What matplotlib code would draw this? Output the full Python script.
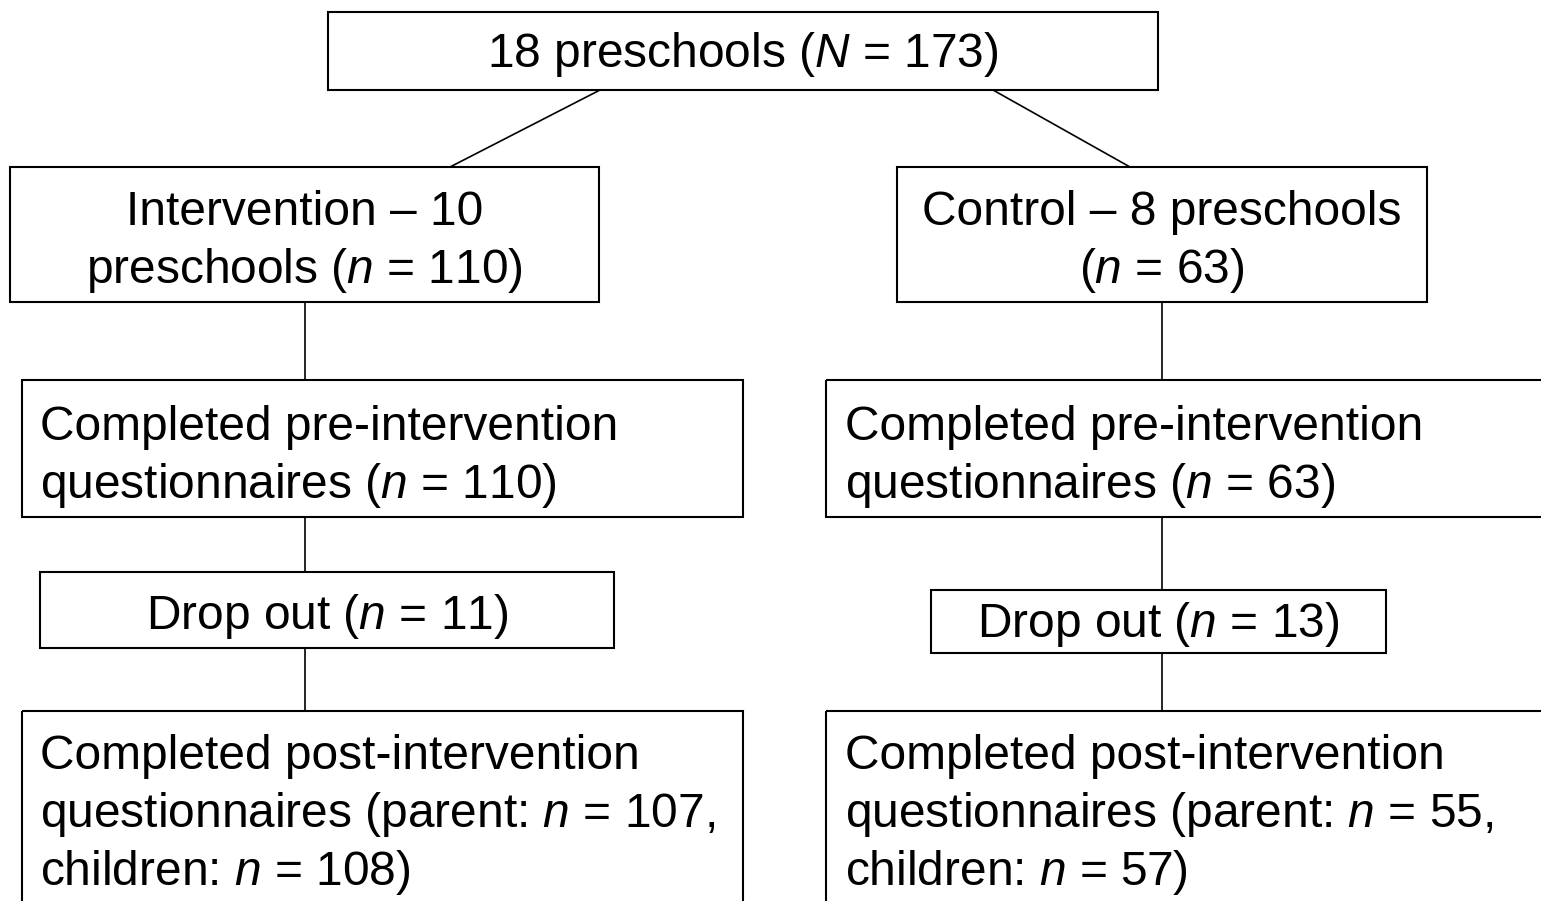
import matplotlib
matplotlib.use("Agg")
import matplotlib.pyplot as plt
from matplotlib.patches import Rectangle

plt.rcParams['font.family'] = ['Liberation Sans', 'DejaVu Sans']
plt.rcParams['mathtext.fontset'] = 'custom'
plt.rcParams['mathtext.rm'] = 'Liberation Sans'
plt.rcParams['mathtext.it'] = 'Liberation Sans:italic'

# ---- content ----
top_lines = ["18 preschools ($N$ = 173)"]
int_lines = ["Intervention – 10", "preschools ($n$ = 110)"]
ctl_lines = ["Control – 8 preschools", "($n$ = 63)"]
pre_int_lines = ["Completed pre-intervention", "questionnaires ($n$ = 110)"]
pre_ctl_lines = ["Completed pre-intervention", "questionnaires ($n$ = 63)"]
drop_int_lines = ["Drop out ($n$ = 11)"]
drop_ctl_lines = ["Drop out ($n$ = 13)"]
post_int_lines = ["Completed post-intervention",
                  "questionnaires (parent: $n$ = 107,",
                  "children: $n$ = 108)"]
post_ctl_lines = ["Completed post-intervention",
                  "questionnaires (parent: $n$ = 55,",
                  "children: $n$ = 57)"]

# ---- layout (pixel coordinates) ----
W, H = 1541, 901
FS = 34.5
LS = 58

fig = plt.figure(figsize=(W / 100, H / 100), dpi=100)
ax = fig.add_axes([0, 0, 1, 1])
ax.set_xlim(0, W)
ax.set_ylim(H, 0)
ax.axis('off')

def box(x0, y0, x1, y1, lines, first_base, align='center', tx=None):
    ax.add_patch(Rectangle((x0, y0), x1 - x0, y1 - y0, fill=False,
                           edgecolor='black', linewidth=1.5, clip_on=True))
    if tx is None:
        tx = (x0 + x1) / 2
    for i, s in enumerate(lines):
        ax.text(tx, first_base + i * LS, s, fontsize=FS, ha=align,
                va='baseline', color='black')

def line(x0, y0, x1, y1):
    ax.plot([x0, x1], [y0, y1], color='black', linewidth=1.2,
            solid_capstyle='butt')

box(328, 12, 1158, 90, top_lines, 67)
box(10, 167, 599, 302, int_lines, 225)
box(897, 167, 1427, 302, ctl_lines, 225)
box(22, 380, 743, 517, pre_int_lines, 440, align='left', tx=40)
box(826, 380, 1570, 517, pre_ctl_lines, 440, align='left', tx=845)
box(40, 572, 614, 648, drop_int_lines, 629)
box(931, 590, 1386, 653, drop_ctl_lines, 637)
box(22, 711, 743, 930, post_int_lines, 769, align='left', tx=40)
box(826, 711, 1570, 930, post_ctl_lines, 769, align='left', tx=845)

line(600, 90, 450, 167)
line(993, 90, 1130, 167)
line(305, 302, 305, 380)
line(1162, 302, 1162, 380)
line(305, 517, 305, 572)
line(1162, 517, 1162, 590)
line(305, 648, 305, 711)
line(1162, 653, 1162, 711)

fig.savefig("out.png", dpi=100, facecolor='white')
